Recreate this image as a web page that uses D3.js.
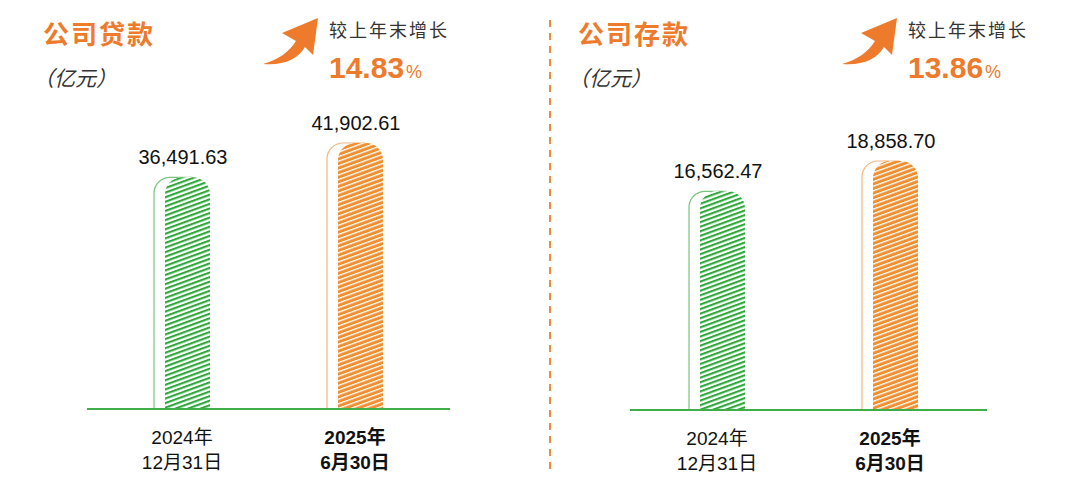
<!DOCTYPE html>
<html>
<head>
<meta charset="utf-8">
<script src="https://cdn.jsdelivr.net/npm/d3@7/dist/d3.min.js"></script>
<style>
  body { margin: 0; background: #fff; }
  svg { display: block; font-family: "Liberation Sans", Arial, "Noto Sans CJK SC", sans-serif; }
</style>
</head>
<body>
<svg width="1080" height="496"></svg>
<script>
// data
var yearLabels = ["2024年", "2025年"];
var dayLabels = ["12月31日", "6月30日"];
var loanValues = [36491.63, 41902.61];
var depositValues = [16562.47, 18858.70];
var panelTitles = ["公司贷款", "公司存款"];
var growthRates = ["14.83", "13.86"];

var orange = "#ee7a2c";
var svg = d3.select("svg");

var defs = svg.append("defs");
// green: green stripes on white; orange: white stripes on orange
defs.append("pattern").attr("id", "hatch-green")
    .attr("patternUnits", "userSpaceOnUse").attr("width", 4.3).attr("height", 10)
    .attr("patternTransform", "rotate(70)")
  .call(function(p) {
    p.append("rect").attr("width", 4.3).attr("height", 10).attr("fill", "#fff");
    p.append("rect").attr("width", 2.1).attr("height", 10).attr("fill", "#2ea83a");
  });
defs.append("pattern").attr("id", "hatch-orange")
    .attr("patternUnits", "userSpaceOnUse").attr("width", 4.3).attr("height", 10)
    .attr("patternTransform", "rotate(70)")
  .call(function(p) {
    p.append("rect").attr("width", 4.3).attr("height", 10).attr("fill", "#ef8f2f");
    p.append("rect").attr("width", 1.3).attr("height", 10).attr("fill", "#fff");
  });

var panels = [
  { values: loanValues, title: panelTitles[0], rate: growthRates[0],
    titleX: 43, growthX: 329, axis: [87, 450], centers: [182, 355], base: 409, top: 143 },
  { values: depositValues, title: panelTitles[1], rate: growthRates[1],
    titleX: 578, growthX: 908, axis: [630, 987], centers: [717, 890], base: 410, top: 161 }
];

function roundTop(x0, x1, yTop, yBot, r) {
  return "M" + x0 + "," + yBot + " V" + (yTop + r) +
    " A" + r + "," + r + " 0 0 1 " + (x0 + r) + "," + yTop +
    " H" + (x1 - r) +
    " A" + r + "," + r + " 0 0 1 " + x1 + "," + (yTop + r) +
    " V" + yBot + " Z";
}

panels.forEach(function(p) {
  var g = svg.append("g");
  var x = d3.scalePoint().domain(yearLabels).range(p.centers);
  var y = d3.scaleLinear().domain([0, d3.max(p.values)]).range([p.base, p.top]);

  // title + unit
  g.append("text").attr("x", p.titleX).attr("y", 44)
    .attr("font-family", "'Noto Sans CJK SC'").attr("font-weight", "bold")
    .attr("font-size", 26).attr("letter-spacing", 2).attr("fill", orange)
    .text(p.title);
  g.append("text").attr("x", p.titleX - 10).attr("y", 86)
    .attr("font-family", "'Noto Sans CJK SC'").attr("font-style", "italic")
    .attr("font-size", 21).attr("fill", "#333")
    .text("（亿元）");

  // growth arrow
  var ax = p.growthX - 66, ay = 64;
  g.append("path")
    .attr("transform", "translate(" + ax + "," + ay + ")")
    .attr("d", "M0,0 C15,-4 26,-12 33,-23 L19,-31 L55,-46 L50,-9 L42,-17 C35,-5 20,2 0,0 Z")
    .attr("fill", orange);
  g.append("text").attr("x", p.growthX).attr("y", 37)
    .attr("font-family", "'Noto Sans CJK SC'").attr("font-size", 18)
    .attr("letter-spacing", 2).attr("fill", "#333")
    .text("较上年末增长");
  var rt = g.append("text").attr("x", p.growthX).attr("y", 78).attr("fill", orange);
  rt.append("tspan").attr("font-size", 30).attr("font-weight", "bold").text(p.rate);
  rt.append("tspan").attr("font-size", 18).attr("dx", 2).text("%");

  // bars
  var bars = g.selectAll("g.bar").data(p.values).enter().append("g").attr("class", "bar");
  bars.append("path")
    .attr("d", function(d, i) {
      var c = x(yearLabels[i]), t = y(d), r = 16;
      return "M" + (c - 28) + "," + p.base + " V" + (t + r) +
        " A" + r + "," + r + " 0 0 1 " + (c - 28 + r) + "," + t + " H" + (c + 10);
    })
    .attr("fill", "none")
    .attr("stroke", function(d, i) { return i === 0 ? "#79c47d" : "#f5b583"; })
    .attr("stroke-width", 1.2);
  bars.append("path")
    .attr("d", function(d, i) {
      var c = x(yearLabels[i]);
      return roundTop(c - 17, c + 28, y(d), p.base, 17);
    })
    .attr("fill", "#fff");
  bars.append("path")
    .attr("d", function(d, i) {
      var c = x(yearLabels[i]);
      return roundTop(c - 17, c + 28, y(d), p.base, 17);
    })
    .attr("fill", function(d, i) { return i === 0 ? "url(#hatch-green)" : "url(#hatch-orange)"; });

  bars.append("text")
    .attr("x", function(d, i) { return x(yearLabels[i]) + 1; })
    .attr("y", function(d) { return y(d) - 13; })
    .attr("text-anchor", "middle").attr("font-size", 20).attr("fill", "#111")
    .text(function(d) { return d3.format(",.2f")(d); });

  // baseline
  g.append("line")
    .attr("x1", p.axis[0]).attr("x2", p.axis[1])
    .attr("y1", p.base).attr("y2", p.base)
    .attr("stroke", "#3fae48").attr("stroke-width", 2);

  // category labels
  var cat = g.selectAll("g.cat").data(yearLabels).enter().append("g").attr("class", "cat");
  cat.append("text")
    .attr("x", function(d) { return x(d); }).attr("y", p.base + 35)
    .attr("text-anchor", "middle").attr("font-size", 19).attr("fill", "#111")
    .attr("font-weight", function(d, i) { return i === 1 ? "bold" : "normal"; })
    .text(function(d) { return d; });
  cat.append("text")
    .attr("x", function(d) { return x(d); }).attr("y", p.base + 60)
    .attr("text-anchor", "middle").attr("font-size", 19).attr("fill", "#111")
    .attr("font-weight", function(d, i) { return i === 1 ? "bold" : "normal"; })
    .text(function(d, i) { return dayLabels[i]; });
});

// dashed divider
svg.append("line")
  .attr("x1", 550).attr("x2", 550).attr("y1", 20).attr("y2", 474)
  .attr("stroke", "#f08a3c").attr("stroke-width", 2)
  .attr("stroke-dasharray", "7,6");
</script>
</body>
</html>
